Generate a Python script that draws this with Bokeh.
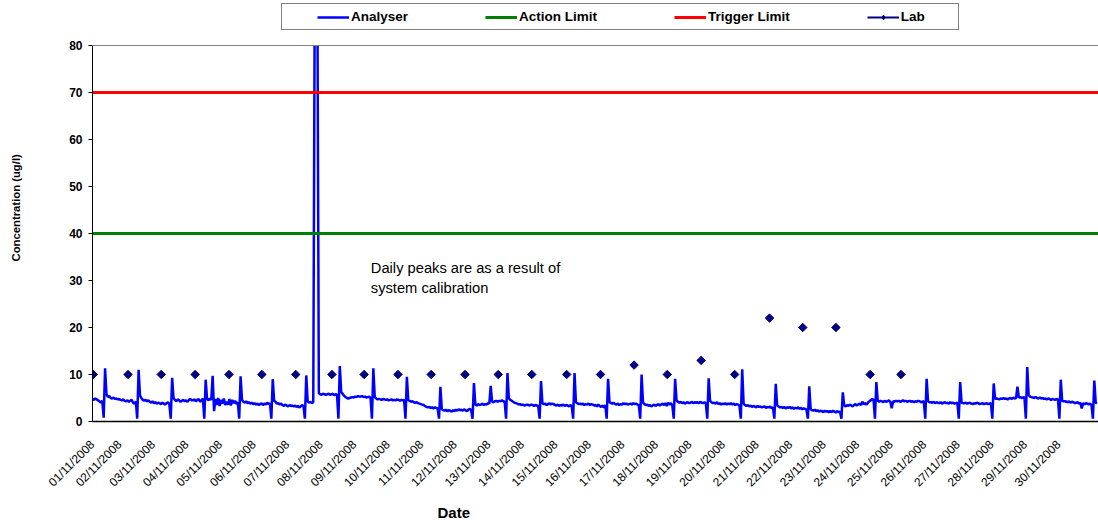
import math
from bokeh.plotting import figure
from bokeh.models import (Range1d, FixedTicker, Span, Legend, LegendItem, Label, Title,
                          BoxAnnotation)
from bokeh.embed import file_html
from bokeh.resources import INLINE

# ---------------- data ----------------
date_labels = [
    "01/11/2008", "02/11/2008", "03/11/2008", "04/11/2008", "05/11/2008",
    "06/11/2008", "07/11/2008", "08/11/2008", "09/11/2008", "10/11/2008",
    "11/11/2008", "12/11/2008", "13/11/2008", "14/11/2008", "15/11/2008",
    "16/11/2008", "17/11/2008", "18/11/2008", "19/11/2008", "20/11/2008",
    "21/11/2008", "22/11/2008", "23/11/2008", "24/11/2008", "25/11/2008",
    "26/11/2008", "27/11/2008", "28/11/2008", "29/11/2008", "30/11/2008",
]
y_ticks = [0, 10, 20, 30, 40, 50, 60, 70, 80]
period_days = [0, 30]          # chart period, in days since 01/11/2008 00:00
action_limit = 40
trigger_limit = 70

# Lab samples: time (days since 01/11/2008 00:00) and concentration (ug/l)
lab_days = [0.02, 1.06, 2.05, 3.06, 4.07, 5.05, 6.06, 7.14, 8.10, 9.11,
            10.10, 11.11, 12.10, 13.10, 14.14, 15.15, 16.15, 17.14, 18.15,
            19.15, 20.19, 21.18, 22.17, 23.19, 24.11]
lab_values = [10, 10, 10, 10, 10, 10, 10, 10, 10, 10,
              10, 10, 10, 10, 10, 10, 12, 10, 13,
              10, 22, 20, 20, 10, 10]

# Analyser: hourly readings (ug/l), one row per day, hours 00..23
# (07/11 afternoon excursion is off the 0-80 scale)
analyser_hourly = [
    [4.8, 4.6, 4.9, 4.7, 4.5, 4.3, 4.0, 4.4, 0.8, 11.3, 5.8, 5.2, 5.4, 5.0, 4.9, 5.1, 4.8, 4.9, 4.7, 4.8, 4.6, 4.5, 4.7, 4.4],
    [4.3, 4.5, 4.2, 4.4, 4.6, 4.0, 3.8, 4.3, 0.6, 11.0, 5.5, 5.0, 4.6, 4.4, 4.6, 4.3, 4.5, 4.2, 4.0, 4.3, 3.9, 4.1, 3.8, 4.0],
    [3.9, 3.7, 4.0, 3.8, 3.6, 3.9, 4.1, 3.7, 0.6, 9.3, 5.0, 4.6, 4.3, 4.7, 4.5, 4.2, 4.4, 4.6, 4.3, 4.5, 4.2, 4.6, 4.8, 4.5],
    [4.5, 4.7, 4.3, 4.6, 4.8, 4.2, 4.5, 4.9, 0.6, 8.9, 4.8, 4.5, 4.9, 4.6, 9.7, 2.2, 4.8, 3.5, 5.0, 3.3, 4.6, 3.8, 4.9, 3.5],
    [4.2, 3.6, 4.8, 3.4, 4.6, 3.9, 4.4, 3.7, 4.1, 0.6, 9.6, 4.6, 4.2, 4.0, 4.3, 3.9, 4.1, 3.8, 4.0, 3.7, 3.9, 3.6, 3.8, 3.5],
    [3.7, 3.9, 3.5, 3.8, 3.6, 4.0, 3.7, 3.9, 0.6, 9.0, 4.4, 4.2, 3.8, 3.9, 3.6, 3.8, 3.5, 3.3, 3.6, 3.4, 3.2, 3.5, 3.3, 3.4],
    [3.2, 3.4, 3.1, 3.3, 3.0, 3.2, 3.5, 3.3, 0.6, 9.8, 4.3, 4.0, 4.2, 3.9, 4.1, 86.0, 89.0, 87.0, 6.0, 5.8, 5.7, 5.9, 5.8, 5.7],
    [5.8, 5.9, 5.7, 5.8, 5.9, 5.6, 5.8, 5.7, 0.6, 11.8, 6.3, 5.9, 5.5, 5.2, 5.0, 4.9, 5.0, 5.1, 5.2, 5.1, 5.3, 5.2, 5.4, 5.3],
    [5.3, 5.4, 5.2, 5.3, 5.1, 5.2, 5.3, 5.0, 0.6, 11.3, 5.2, 4.9, 4.7, 4.8, 4.7, 4.6, 4.8, 4.7, 4.6, 4.7, 4.5, 4.6, 4.7, 4.5],
    [4.6, 4.5, 4.7, 4.6, 4.4, 4.6, 4.5, 4.6, 0.6, 9.5, 4.5, 4.4, 4.2, 4.3, 4.1, 4.0, 4.1, 3.9, 3.8, 3.7, 3.6, 3.5, 3.3, 3.1],
    [3.0, 3.1, 2.9, 3.0, 2.8, 3.0, 2.9, 2.8, 0.6, 7.4, 2.6, 2.4, 2.3, 2.5, 2.2, 2.4, 2.3, 2.1, 2.4, 2.2, 2.5, 2.3, 2.6, 2.4],
    [2.5, 2.3, 2.6, 2.4, 2.2, 2.5, 2.7, 2.4, 0.6, 8.2, 3.6, 3.4, 3.7, 3.5, 3.6, 3.8, 3.5, 3.7, 3.6, 3.9, 3.8, 7.6, 4.2, 4.1],
    [4.3, 4.4, 4.2, 4.4, 4.3, 4.5, 4.3, 4.2, 0.6, 10.3, 4.9, 4.6, 4.4, 4.2, 4.0, 3.9, 3.8, 3.6, 3.7, 3.5, 3.6, 3.4, 3.5, 3.6],
    [3.5, 3.4, 3.6, 3.5, 3.3, 3.5, 3.4, 3.3, 0.6, 8.6, 3.9, 3.7, 3.8, 3.5, 3.7, 3.9, 3.6, 3.8, 3.7, 3.5, 3.4, 3.6, 3.3, 3.5],
    [3.4, 3.6, 3.3, 3.5, 3.4, 3.2, 3.5, 3.3, 0.6, 10.3, 4.1, 3.9, 3.7, 3.8, 3.6, 3.8, 3.5, 3.7, 3.6, 3.8, 3.5, 3.7, 3.6, 3.4],
    [3.5, 3.2, 3.6, 3.3, 3.1, 3.4, 3.0, 3.5, 0.6, 9.1, 4.2, 3.9, 3.8, 4.0, 3.7, 3.6, 3.8, 3.5, 3.7, 3.6, 3.9, 3.7, 3.8, 3.6],
    [3.7, 3.8, 3.6, 3.9, 3.7, 3.8, 3.6, 3.5, 0.6, 10.0, 4.0, 3.7, 3.5, 3.6, 3.3, 3.5, 3.2, 3.4, 3.6, 3.3, 3.5, 3.7, 3.4, 3.6],
    [3.8, 3.5, 3.9, 3.3, 4.0, 3.6, 3.9, 3.4, 0.6, 9.1, 4.5, 4.2, 4.0, 4.2, 3.9, 4.1, 3.8, 4.0, 4.1, 3.9, 4.0, 4.2, 3.9, 4.1],
    [4.0, 4.1, 3.9, 4.2, 4.0, 3.9, 4.1, 3.8, 0.6, 9.2, 4.4, 4.1, 3.9, 4.0, 3.8, 4.1, 3.7, 3.9, 3.6, 3.8, 3.7, 3.9, 3.6, 3.8],
    [3.7, 3.9, 3.6, 3.8, 3.5, 3.7, 3.6, 3.4, 0.6, 11.1, 3.8, 3.5, 3.3, 3.5, 3.2, 3.4, 3.1, 3.3, 3.2, 3.0, 3.3, 3.1, 3.2, 3.0],
    [3.1, 3.2, 2.9, 3.1, 3.0, 3.2, 2.8, 3.0, 0.6, 8.0, 3.4, 3.2, 3.0, 3.1, 2.9, 3.1, 2.8, 3.0, 2.9, 3.1, 2.8, 3.0, 2.7, 2.9],
    [2.8, 3.0, 2.7, 2.9, 2.6, 2.8, 2.7, 2.5, 0.6, 7.5, 2.6, 2.4, 2.3, 2.5, 2.2, 2.4, 2.1, 2.3, 2.2, 2.0, 2.3, 2.1, 2.2, 2.0],
    [2.2, 2.0, 2.3, 2.1, 1.9, 2.2, 2.0, 2.1, 0.6, 6.2, 3.4, 3.2, 3.5, 3.3, 3.6, 3.4, 3.2, 3.5, 3.7, 3.4, 3.6, 3.8, 3.5, 4.2],
    [3.7, 3.9, 3.6, 4.0, 4.3, 4.5, 4.8, 4.6, 0.6, 8.4, 4.4, 4.2, 4.4, 4.3, 4.1, 4.4, 4.2, 4.3, 4.5, 4.2, 2.8, 4.3, 4.2, 4.4],
    [4.3, 4.4, 4.2, 4.3, 4.5, 4.3, 4.4, 4.2, 4.3, 4.4, 4.2, 4.3, 4.1, 4.3, 4.2, 4.4, 4.3, 4.1, 4.2, 4.3, 0.6, 9.1, 4.3, 4.1],
    [4.1, 4.0, 4.2, 3.9, 4.1, 4.0, 3.9, 4.1, 3.8, 4.0, 4.1, 3.9, 4.0, 3.8, 4.1, 3.9, 4.0, 3.8, 3.9, 4.0, 0.6, 8.4, 4.0, 3.9],
    [3.9, 4.0, 3.8, 3.9, 4.0, 3.8, 3.7, 3.9, 3.8, 4.0, 3.9, 3.7, 3.8, 3.9, 3.7, 3.8, 3.9, 3.7, 3.8, 3.9, 0.6, 8.1, 4.8, 4.9],
    [4.8, 4.7, 4.9, 4.8, 5.0, 4.8, 4.9, 4.7, 4.9, 5.0, 4.8, 5.1, 4.9, 5.0, 7.4, 5.1, 5.2, 5.0, 5.1, 5.2, 0.6, 11.6, 5.6, 5.3],
    [5.2, 5.1, 5.0, 5.2, 5.0, 4.9, 5.1, 4.9, 5.0, 4.8, 4.9, 4.7, 4.9, 4.8, 4.6, 4.8, 4.7, 4.6, 4.8, 4.7, 0.6, 8.9, 4.4, 4.3],
    [4.3, 4.2, 4.1, 4.3, 4.0, 4.2, 4.1, 3.9, 4.0, 4.1, 3.8, 4.0, 2.8, 3.9, 3.7, 3.9, 3.8, 3.6, 3.8, 3.5, 0.6, 8.7, 4.0, 3.9],
]

an_x, an_y = [], []
for d, day in enumerate(analyser_hourly):
    for h, v in enumerate(day):
        an_x.append(d + h / 24.0)
        an_y.append(v)

FONT = "Liberation Sans"
NAN = float("nan")

# ---------------- layout ----------------
W, H = 1098, 524
BORDER_LEFT, BORDER_BOTTOM = 90, 103
PLOT_TOP = 45                      # pixel row of the 80 line
frame_h = H - BORDER_BOTTOM        # frame reaches the top of the canvas (legend lives inside it)
y_axis_top = y_ticks[-1]
y_view_top = y_axis_top * frame_h / (frame_h - PLOT_TOP)

p = figure(width=W, height=H, output_backend="svg", toolbar_location=None,
           x_range=Range1d(period_days[0], period_days[1]),
           y_range=Range1d(y_ticks[0], y_view_top),
           min_border_left=BORDER_LEFT, min_border_right=0, min_border_top=0,
           min_border_bottom=BORDER_BOTTOM)
p.grid.visible = False
p.outline_line_color = None
p.background_fill_color = "white"
p.border_fill_color = "white"

# x axis: rotated date labels, set slightly left of each midnight like the original
LABEL_SHIFT = 0.19
tick_pos = [0.0] + [k - LABEL_SHIFT for k in range(1, len(date_labels))]
xa = p.xaxis[0]
xa.ticker = FixedTicker(ticks=tick_pos)
xa.major_label_overrides = {t: lbl for t, lbl in zip(tick_pos, date_labels)}
xa.major_label_orientation = math.pi / 4
xa.major_tick_out = 0
xa.major_tick_in = 0
xa.minor_tick_out = 0
xa.minor_tick_in = 0
xa.major_label_standoff = 21
xa.major_label_text_font = FONT
xa.major_label_text_font_size = "12px"
xa.major_label_text_color = "#000000"
xa.axis_line_color = "#000000"
xa.axis_line_width = 1.5

# y axis (a blank axis label is used as spacer so the title sits at the far left)
ya = p.yaxis[0]
ya.bounds = (y_ticks[0], y_axis_top)
ya.ticker = FixedTicker(ticks=y_ticks)
ya.major_tick_out = 4
ya.major_tick_in = 0
ya.minor_tick_out = 0
ya.minor_tick_in = 0
ya.major_tick_line_color = "#000000"
ya.major_label_standoff = 6
ya.major_label_text_font = FONT
ya.major_label_text_font_size = "12px"
ya.major_label_text_font_style = "bold"
ya.major_label_text_color = "#000000"
ya.axis_line_color = "#000000"
ya.axis_line_width = 1
ya.axis_label = " "
ya.axis_label_text_font_size = "1px"
ya.axis_label_standoff = 32

# ---------------- series ----------------
r_an = p.line(an_x, an_y, line_color="#0000FF", line_width=2.5)
r_act = p.line(period_days, [action_limit] * 2, line_color="#008000", line_width=3)
r_trg = p.line(period_days, [trigger_limit] * 2, line_color="#FF0000", line_width=3)
r_lab = p.scatter(lab_days, lab_values, marker="square", angle=math.pi / 4, size=6,
                  fill_color="#000080", line_color="#000080")
# legend-only keys for the Lab series (line with diamond marker)
r_lab_key_line = p.line([lab_days[0]], [NAN], line_color="#000080", line_width=2)
r_lab_key_mark = p.scatter([lab_days[0]], [NAN], marker="diamond", size=10,
                           fill_color="#000080", line_color="#000080")

# plot area ends at 80: mask everything above it, then the top frame line
p.add_layout(BoxAnnotation(bottom=y_axis_top, fill_color="white", fill_alpha=1.0,
                           line_alpha=0))
p.add_layout(Span(location=y_axis_top, dimension="width", line_color="#808080", line_width=1))

# ---------------- legend (in the white band above the plot area) ----------------
legend = Legend(
    items=[
        LegendItem(label="Analyser", renderers=[r_an]),
        LegendItem(label="Action Limit", renderers=[r_act]),
        LegendItem(label="Trigger Limit", renderers=[r_trg]),
        LegendItem(label="Lab", renderers=[r_lab_key_line, r_lab_key_mark]),
    ],
    orientation="horizontal", location=(189, frame_h - 4 - 26),
    spacing=77, padding=5, margin=0,
    glyph_width=32, glyph_height=12, label_standoff=2,
    label_width=52, label_height=14,
    label_text_font=FONT, label_text_font_size="13.5px",
    label_text_font_style="bold", label_text_color="#000000",
    title=" ", title_location="left", title_standoff=15,
    title_text_font=FONT, title_text_font_size="13.5px",
    border_line_color="#000000", border_line_width=1,
    background_fill_color="white", background_fill_alpha=1.0,
)
p.add_layout(legend)

# ---------------- titles ----------------
p.add_layout(Title(text="Concentration (ug/l)", align="left", offset=160,
                   vertical_align="middle", standoff=16,
                   text_font=FONT, text_font_size="11.3px", text_font_style="bold",
                   text_color="#000000"), "left")
p.add_layout(Title(text="Date", align="left", offset=345,
                   vertical_align="bottom", standoff=8,
                   text_font=FONT, text_font_size="15px", text_font_style="bold",
                   text_color="#000000"), "below")

# ---------------- note ----------------
p.add_layout(Label(x=8.3, y=32.6, text="Daily peaks are as a result of",
                   text_align="left", text_baseline="middle",
                   text_font=FONT, text_font_size="14.7px", text_color="#000000"))
p.add_layout(Label(x=8.3, y=28.35, text="system calibration",
                   text_align="left", text_baseline="middle",
                   text_font=FONT, text_font_size="14.7px", text_color="#000000"))

open("out.html", "w").write(file_html(p, INLINE))
